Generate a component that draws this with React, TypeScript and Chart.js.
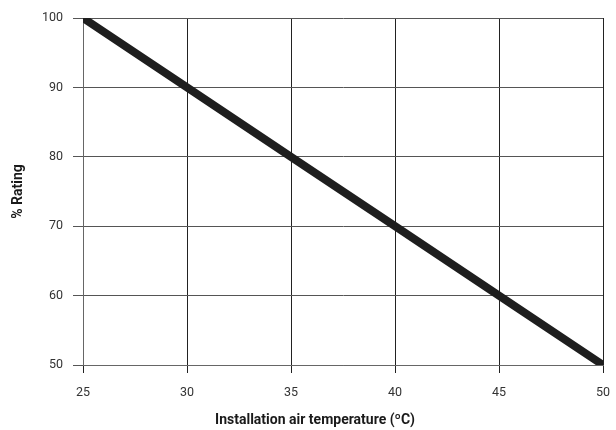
import React, { useEffect, useRef } from "react";
import { Chart, registerables } from "chart.js";
Chart.register(...registerables);

const temperatures = [25, 30, 35, 40, 45, 50];
const ratings = [100, 90, 80, 70, 60, 50];
const xTitle = "Installation air temperature (ºC)";
const yTitle = "% Rating";

const xTitlePlugin = {
  id: "xTitle",
  afterDraw(chart: any) {
    const ctx = chart.ctx;
    ctx.save();
    ctx.font = "bold 14px Roboto";
    ctx.fillStyle = "#1a1a1a";
    ctx.textAlign = "center";
    ctx.textBaseline = "middle";
    ctx.fillText(xTitle, chart.width / 2 + 7, chart.height - 10);
    ctx.restore();
  },
};

export default function App() {
  const ref = useRef<HTMLCanvasElement>(null);
  useEffect(() => {
    if (!ref.current) return;
    const chart = new Chart(ref.current, {
      type: "line",
      data: {
        datasets: [
          {
            data: temperatures.map((t, i) => ({ x: t, y: ratings[i] })),
            borderColor: "#1e1e1e",
            borderWidth: 8,
            pointRadius: 0,
            borderCapStyle: "butt",
            clip: 0,
          } as any,
        ],
      },
      plugins: [xTitlePlugin],
      options: {
        animation: false,
        responsive: false,
        layout: { padding: { top: 18, right: 0, left: 0, bottom: 0 } },
        plugins: { legend: { display: false }, tooltip: { enabled: false } },
        scales: {
          x: {
            type: "linear",
            min: 25,
            max: 50,
            ticks: { stepSize: 5, color: "#333", font: { family: "Roboto", size: 12.5 }, padding: 12 },
            grid: { color: "#222", lineWidth: 1, tickLength: 8, drawTicks: true },
            border: { color: "#666", width: 1 },
            title: { display: false },
            afterFit: (s: any) => {
              s.height = 65;
              s.paddingRight = 13;
              s.paddingLeft = 0;
            },
          },
          y: {
            min: 50,
            max: 100,
            ticks: { stepSize: 10, color: "#333", font: { family: "Roboto", size: 12.5 }, padding: 10 },
            grid: { color: "#555", lineWidth: 1, tickLength: 10 },
            border: { color: "#666", width: 1 },
            title: {
              display: true,
              text: yTitle,
              color: "#1a1a1a",
              font: { family: "Roboto", size: 14, weight: "bold" },
              padding: { top: 10, bottom: 10 },
            },
            afterFit: (s: any) => {
              s.width = 83;
              s.paddingTop = 0;
              s.paddingBottom = 0;
            },
          },
        },
      },
    });
    return () => chart.destroy();
  }, []);
  return (
    <div style={{ position: "fixed", left: 0, top: 0, width: 616, height: 430, background: "#fff" }}>
      <canvas ref={ref} width={616} height={430} style={{ display: "block" }} />
    </div>
  );
}
